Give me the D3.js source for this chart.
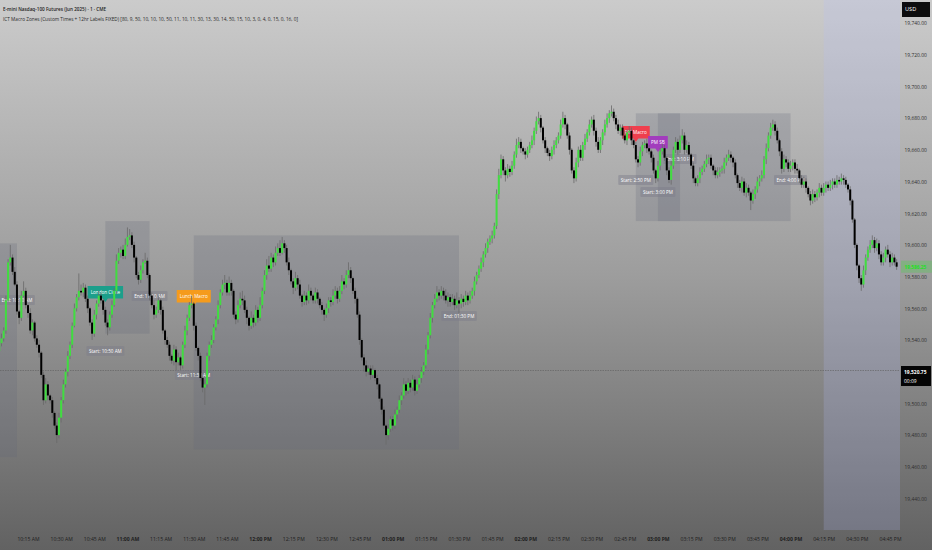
<!DOCTYPE html>
<html><head><meta charset="utf-8">
<script src="https://cdn.jsdelivr.net/npm/d3@7"></script>
<style>html,body{margin:0;padding:0;background:#999;} svg{display:block;font-family:"Open Sans",sans-serif;}</style>
</head><body><svg id="c" width="932" height="550"></svg>
<script>
// ---------- DATA ----------
const symbolTitle = "E-mini Nasdaq-100 Futures (Jun 2025) · 1 · CME";
const indicatorTitle = "ICT Macro Zones (Custom Times + 12hr Labels FIXED) [80, 9, 50, 10, 10, 10, 50, 11, 10, 11, 30, 13, 30, 14, 50, 15, 10, 3, 0, 4, 0, 15, 0, 16, 0]";
const startTime = "10:02";   // first 1-minute bar
const firstOpen = 19533;
const closes = [
19538,19541,19546,19565,19589,19592,19583,19575,19558,19554,
19568,19571,19562,19557,19546,19551,19541,19537,19532,19518,
19502,19512,19505,19502,19494,19486,19480,19491,19502,19512,
19520,19530,19537,19549,19560,19567,19571,19570,19573,19566,
19560,19551,19544,19556,19563,19568,19565,19559,19551,19548,
19556,19562,19571,19590,19595,19597,19593,19600,19605,19606,
19600,19592,19581,19578,19584,19589,19590,19581,19568,19562,
19556,19559,19565,19559,19546,19540,19537,19530,19527,19534,
19526,19529,19524,19537,19546,19554,19562,19563,19549,19535,
19530,19516,19510,19512,19530,19537,19540,19548,19553,19562,
19570,19575,19576,19570,19576,19571,19556,19553,19562,19566,
19565,19559,19554,19549,19554,19551,19559,19554,19562,19571,
19581,19587,19585,19592,19589,19595,19598,19595,19601,19598,
19589,19584,19577,19573,19579,19575,19568,19564,19568,19565,
19571,19568,19565,19570,19566,19562,19559,19556,19560,19565,
19564,19568,19571,19566,19571,19577,19575,19581,19584,19579,
19571,19566,19556,19540,19529,19524,19520,19522,19518,19521,
19516,19512,19503,19496,19486,19480,19484,19490,19486,19493,
19496,19502,19505,19512,19508,19513,19510,19515,19508,19512,
19516,19520,19524,19534,19543,19554,19562,19566,19570,19568,
19571,19568,19565,19567,19564,19566,19562,19565,19563,19566,
19564,19568,19565,19568,19571,19577,19581,19585,19589,19594,
19598,19602,19604,19606,19612,19632,19644,19654,19647,19644,
19648,19646,19650,19657,19663,19665,19661,19659,19657,19660,
19663,19666,19672,19678,19680,19674,19666,19661,19658,19656,
19660,19663,19666,19669,19676,19680,19676,19669,19660,19647,
19642,19652,19660,19655,19663,19667,19671,19676,19679,19672,
19665,19660,19666,19671,19676,19680,19683,19684,19680,19676,
19672,19674,19669,19666,19671,19672,19666,19663,19654,19652,
19659,19663,19664,19661,19659,19655,19647,19642,19650,19659,
19661,19655,19647,19641,19650,19660,19665,19660,19666,19669,
19660,19663,19657,19650,19642,19639,19642,19646,19648,19651,
19654,19655,19650,19647,19644,19646,19647,19648,19652,19655,
19657,19655,19652,19644,19639,19636,19640,19633,19636,19633,
19628,19632,19635,19640,19642,19644,19654,19661,19669,19674,
19676,19672,19666,19659,19648,19654,19652,19648,19650,19652,
19648,19647,19642,19638,19640,19636,19632,19628,19632,19630,
19633,19636,19633,19636,19638,19636,19638,19640,19638,19641,
19640,19642,19641,19638,19635,19628,19616,19600,19587,19579,
19575,19584,19592,19597,19600,19603,19598,19601,19594,19589,
19592,19597,19594,19589,19592,19589,19586.25];
// wick lengths above / below the body, in index points
const wickUp = [
2,3,2,3,2,8,2,3,2,1, 3,6,2,1,3,2,1,2,3,1, 2,4,2,1,2,1,2,3,2,3, 2,3,2,2,3,2,11,4,3,2,
2,1,2,3,2,3,2,1,2,2, 2,3,2,4,3,2,3,4,6,4, 2,2,1,2,3,2,5,2,1,2, 3,2,3,1,2,1,2,2,1,3,
2,3,1,2,3,2,2,5,1,2, 1,2,1,3,2,2,3,2,2,3, 2,3,5,2,4,2,1,2,3,4, 5,3,2,1,4,2,3,2,5,2,
3,4,6,3,2,4,3,5,4,2, 2,3,1,2,4,2,3,1,3,2, 4,2,1,3,2,1,2,1,3,2, 2,4,3,2,3,4,2,3,5,2,
1,2,1,2,1,2,3,2,2,3, 1,2,1,1,2,1,3,2,2,3, 2,3,2,4,2,3,2,3,2,3, 2,3,2,3,2,3,2,3,4,2,
3,2,4,3,2,3,2,5,2,3, 2,3,2,3,2,3,2,2,3,2, 3,2,2,3,2,3,4,3,2,2, 3,2,3,2,4,3,2,1,2,2,
2,3,2,3,4,2,1,2,1,2, 2,3,2,2,3,4,2,1,2,1, 2,3,2,3,2,3,2,3,2,3, 2,3,2,2,3,3,2,4,2,2,
3,2,2,3,2,3,2,1,2,2, 3,2,2,3,2,1,2,1,3,2, 3,2,1,2,3,2,3,2,3,4, 2,3,2,1,2,1,2,3,2,2,
3,2,2,1,2,3,2,2,3,2, 3,2,1,2,1,2,3,2,3,2, 1,3,2,3,2,3,2,3,2,3, 3,2,2,1,2,3,2,2,3,2,
2,3,1,2,3,2,1,2,3,2, 2,3,2,3,2,2,3,2,2,3, 2,3,2,2,1,2,1,1,1,1, 2,3,2,2,3,3,2,3,2,2,
3,2,3,2,3,2,2];
const wickDn = [
3,2,2,2,1,2,2,1,2,4, 2,1,2,3,2,3,2,2,3,2, 3,2,3,2,3,2,5,2,3,2, 2,3,2,2,1,2,2,2,3,2,
3,2,4,2,3,2,2,3,2,5, 2,2,1,2,2,3,2,2,1,2, 2,3,2,3,2,2,1,2,3,2, 3,2,2,3,2,3,2,3,2,3,
5,2,3,2,2,3,2,2,3,2, 3,2,3,11,2,3,2,2,2,3, 2,2,3,2,2,3,2,3,2,2, 3,2,4,3,2,3,2,3,2,2,
2,3,2,2,3,2,2,2,1,3, 2,3,2,4,2,3,2,3,2,3, 2,3,2,2,3,2,3,4,2,3, 3,2,2,3,2,2,3,2,2,3,
2,3,2,3,2,4,3,2,3,2, 2,3,2,3,2,6,3,2,3,2, 3,2,3,2,3,2,3,2,3,2, 2,3,2,2,3,2,3,2,2,3,
2,3,2,4,3,2,3,2,6,3, 3,2,3,2,2,3,2,2,2,3, 2,3,2,3,2,2,3,2,3,4, 2,3,2,2,2,2,3,2,3,2,
2,2,3,2,2,3,2,3,2,3, 2,3,2,2,2,2,3,2,3,2, 3,2,3,2,2,3,2,2,2,3, 3,2,2,3,2,2,3,2,2,3,
2,3,2,2,3,2,3,2,2,3, 2,3,2,3,2,3,2,3,2,3, 2,2,3,2,3,2,2,3,2,2, 3,2,3,2,3,2,2,3,2,2,
2,3,2,3,2,2,3,2,3,2, 2,3,3,2,3,2,3,2,3,2, 6,2,3,2,3,2,2,3,2,2, 2,3,2,3,3,2,3,2,2,3,
3,2,3,2,2,3,2,3,2,3, 2,3,2,2,3,2,2,3,2,2, 2,2,3,2,2,3,2,2,3,3, 4,2,3,2,2,2,3,2,3,2,
2,3,2,3,2,2,2];

const priceTicks = [19740,19720,19700,19680,19660,19640,19620,19600,19580,19560,19540,19500,19480,19460,19440];
const timeTickLabels = ["10:15 AM","10:30 AM","10:45 AM","11:00 AM","11:15 AM","11:30 AM","11:45 AM","12:00 PM","12:15 PM","12:30 PM","12:45 PM","01:00 PM","01:15 PM","01:30 PM","01:45 PM","02:00 PM","02:15 PM","02:30 PM","02:45 PM","03:00 PM","03:15 PM","03:30 PM","03:45 PM","04:00 PM","04:15 PM","04:30 PM","04:45 PM"];

const zoneNames = ["AM Macro","London Close","Lunch Macro","PM Macro","PM SB"];
const zoneColors = ["#2962ff","#1c9f8b","#f59b1c","#ef3f4e","#a23cbd"];
const zoneStart = ["09:50","10:50","11:30","14:50","15:00"];
const zoneEnd = ["10:10","11:10","13:30","15:10","16:00"];
const zoneTop = [19601,19615,19606,19683,19683];
const zoneBottom = [19466,19544,19471,19615,19615];
const startText = ["Start: 9:50 AM","Start: 10:50 AM","Start: 11:30 AM","Start: 2:50 PM","Start: 3:00 PM"];
const endText = ["End: 10:10 AM","End: 11:10 AM","End: 01:30 PM","End: 3:10 PM","End: 4:00 PM"];
const nameTipPrice = [19600,19564,19561.5,19665,19658.6];
const startLabelPrice = [19560,19533.1,19517.9,19640.9,19633.4];
const endLabelPrice = [19565.2,19567.8,19555.1,19654.2,19640.9];

const refPrice = 19520.75, refCountdown = "00:09";
const sessionShadeFrom = "16:15";

// ---------- CHART ----------
const W = 932, H = 550, plotRight = 900, plotBottom = 530;
const svg = d3.select("#c");
const defs = svg.append("defs");
const g = defs.append("linearGradient").attr("id","bg").attr("x1",0).attr("x2",0).attr("y1",0).attr("y2",1);
g.append("stop").attr("offset","0").attr("stop-color","#cbcbcb");
g.append("stop").attr("offset","0.5").attr("stop-color","#9d9d9d");
g.append("stop").attr("offset","1").attr("stop-color","#626262");
defs.append("clipPath").attr("id","plot").append("rect").attr("x",0).attr("y",0).attr("width",plotRight).attr("height",plotBottom);
svg.append("rect").attr("width",W).attr("height",H).attr("fill","url(#bg)");

// compress text horizontally (narrow UI font look)
function narrow(sel, k) {
  sel.each(function(){ const w = this.getComputedTextLength();
    d3.select(this).attr("textLength", w*k).attr("lengthAdjust","spacingAndGlyphs"); });
  return sel;
}

const hm = d3.timeParse("%H:%M");
const hmAP = d3.timeParse("%I:%M %p");
const x = d3.scaleTime().domain([hm("10:15"), hm("16:45")]).range([28, 890]);
const y = d3.scaleLinear().domain([19440, 19740]).range([498.5, 23]);

const t0 = hm(startTime);
const bars = closes.map((c, i) => {
  const o = i === 0 ? firstOpen : closes[i-1];
  return { t: d3.timeMinute.offset(t0, i), o, c,
           h: Math.max(o, c) + wickUp[i], l: Math.min(o, c) - wickDn[i] };
});

const plot = svg.append("g").attr("clip-path","url(#plot)");
// extended-session shade
plot.append("rect").attr("x", x(hm(sessionShadeFrom))).attr("y",0)
  .attr("width", plotRight - x(hm(sessionShadeFrom))).attr("height", plotBottom)
  .attr("fill","rgba(180,190,255,0.2)");

// zones
plot.selectAll("rect.zone").data(zoneNames).join("rect").attr("class","zone")
  .attr("x",(d,i)=>x(hm(zoneStart[i]))).attr("width",(d,i)=>x(hm(zoneEnd[i]))-x(hm(zoneStart[i])))
  .attr("y",(d,i)=>y(zoneTop[i])).attr("height",(d,i)=>y(zoneBottom[i])-y(zoneTop[i]))
  .attr("fill","rgba(100,104,122,0.24)");

// reference price line
plot.append("line").attr("x1",0).attr("x2",plotRight).attr("y1",y(refPrice)).attr("y2",y(refPrice))
  .attr("stroke","#5a5a5a").attr("stroke-opacity",0.7).attr("stroke-width",0.8).attr("stroke-dasharray","1.5,1");

const LK = 0.8; // label text compression
// start / end labels
function smallLabel(txt, cx, cy) {
  if (cx < 0) return;
  const gg = plot.append("g");
  const tx = gg.append("text").attr("x",cx).attr("y",cy).attr("dy","0.35em").attr("text-anchor","middle")
    .attr("font-size",5.8).attr("fill","#fff").text(txt);
  narrow(tx, LK);
  const w = +tx.attr("textLength");
  gg.insert("rect","text").attr("x",cx-w/2-2.5).attr("y",cy-5).attr("width",w+5).attr("height",10)
    .attr("rx",1).attr("fill","rgba(125,125,138,0.45)");
}
zoneNames.forEach((n,i)=>{
  smallLabel(startText[i], x(hm(zoneStart[i])), y(startLabelPrice[i]));
  smallLabel(endText[i], x(hm(zoneEnd[i])), y(endLabelPrice[i]));
});
// name labels
zoneNames.forEach((n,i)=>{
  const cx = x(hm(zoneStart[i])), tip = y(nameTipPrice[i]);
  if (cx < 0) return;
  const gg = plot.append("g");
  const by = tip - 3.5, bh = 12.5;
  const tx = gg.append("text").attr("x",cx).attr("y",by-bh/2).attr("dy","0.35em").attr("text-anchor","middle")
    .attr("font-size",5.8).attr("fill","#fff").text(n);
  narrow(tx, LK);
  const w = +tx.attr("textLength");
  gg.insert("path","text").attr("d",`M${cx-w/2-3},${by-bh}h${w+6}v${bh}h${-(w/2+3-2.5)}l-2.5,3.5l-2.5,-3.5h${-(w/2+3-2.5)}z`)
    .attr("fill",zoneColors[i]);
});

// candles
const cg = plot.append("g");
cg.selectAll("line").data(bars).join("line")
  .attr("x1",d=>x(d.t)).attr("x2",d=>x(d.t)).attr("y1",d=>y(d.h)).attr("y2",d=>y(d.l))
  .attr("stroke","#6a6a6a").attr("stroke-width",0.8);
cg.selectAll("rect").data(bars).join("rect")
  .attr("x",d=>x(d.t)-1).attr("width",2)
  .attr("y",d=>y(Math.max(d.o,d.c))).attr("height",d=>Math.max(0.8, Math.abs(y(d.o)-y(d.c))))
  .attr("fill",d=>d.c>=d.o?"#40de40":"#000");

// axes
const fmtP = d3.format(",.2f");
const ya = svg.append("g").attr("transform",`translate(${plotRight},0)`)
  .call(d3.axisRight(y).tickValues(priceTicks).tickFormat(fmtP).tickSize(0).tickPadding(4.5));
ya.select(".domain").remove();
narrow(ya.selectAll("text").attr("font-size",5.8).attr("fill","#2e2e2e").attr("font-family","Open Sans"), 0.85);

const tickDates = timeTickLabels.map(s=>hmAP(s));
const xa = svg.append("g").attr("transform",`translate(0,534)`)
  .call(d3.axisBottom(x).tickValues(tickDates).tickFormat((d,i)=>timeTickLabels[i]).tickSize(0).tickPadding(3));
xa.select(".domain").remove();
narrow(xa.selectAll("text").attr("font-size",5.8).attr("fill","#1e1e1e").attr("font-family","Open Sans")
  .attr("font-weight",(d,i)=>timeTickLabels[i].includes(":00")?700:400), 0.88);

// last price label
const last = bars[bars.length-1];
svg.append("rect").attr("x",901).attr("y",y(last.c)-6).attr("width",31).attr("height",12).attr("fill","rgba(60,220,60,0.28)");
narrow(svg.append("text").attr("x",904.5).attr("y",y(last.c)).attr("dy","0.35em").attr("font-size",5.8).attr("font-weight",700)
  .attr("fill","#22e022").text(fmtP(last.c)), 0.82);

// reference price box
const ry = y(refPrice);
svg.append("rect").attr("x",901).attr("y",ry-4.5).attr("width",30).attr("height",20).attr("fill","#050505");
narrow(svg.append("text").attr("x",904).attr("y",ry+1).attr("dy","0.35em").attr("font-size",6).attr("font-weight",700).attr("fill","#fff").text(fmtP(refPrice)), 0.82);
narrow(svg.append("text").attr("x",904).attr("y",ry+10).attr("dy","0.35em").attr("font-size",5.8).attr("fill","#fff").text(refCountdown), 0.85);

// currency box
svg.append("rect").attr("x",902).attr("y",2).attr("width",28).attr("height",15).attr("fill","#0d0d0d");
svg.append("text").attr("x",905).attr("y",9.5).attr("dy","0.35em").attr("font-size",5.6).attr("fill","#fff").text("USD");

// titles
svg.append("text").attr("x",3).attr("y",8.5).attr("dy","0.35em").attr("font-size",6).attr("font-weight",600).attr("fill","#1c1c1c")
  .attr("textLength",103).attr("lengthAdjust","spacingAndGlyphs").text(symbolTitle);
svg.append("text").attr("x",3).attr("y",19.5).attr("dy","0.35em").attr("font-size",5.6).attr("fill","#2a2a2a")
  .attr("textLength",295).attr("lengthAdjust","spacingAndGlyphs").text(indicatorTitle);
</script></body></html>
